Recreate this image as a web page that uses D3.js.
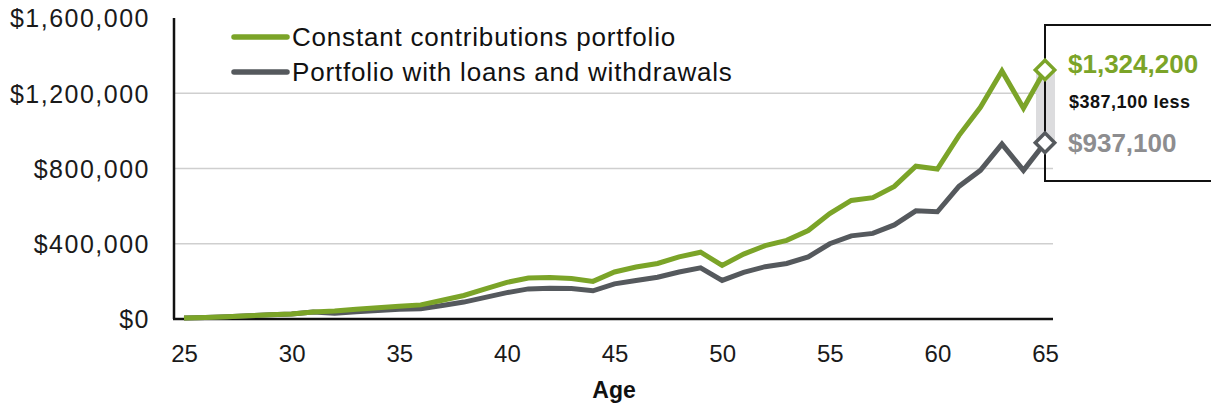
<!DOCTYPE html>
<html>
<head>
<meta charset="utf-8">
<script src="https://cdn.jsdelivr.net/npm/d3@7"></script>
<style>
  html, body { margin: 0; padding: 0; background: #fff; }
  svg { display: block; font-family: "Liberation Sans", Arial, sans-serif; }
</style>
</head>
<body>
<svg id="chart" width="1211" height="411"></svg>
<script>
const ages = [25,26,27,28,29,30,31,32,33,34,35,36,37,38,39,40,41,42,43,44,45,46,47,48,49,50,51,52,53,54,55,56,57,58,59,60,61,62,63,64,65];
const constantValues = [5000,8000,12000,17000,22000,27000,37000,42000,52000,60000,68000,75000,100000,125000,160000,195000,218000,220000,215000,200000,250000,276000,295000,330000,355000,285000,345000,390000,418000,470000,560000,630000,645000,705000,812000,797000,975000,1125000,1318000,1120000,1324200];
const loanValues = [5000,8000,12000,17000,22000,27000,37000,30000,38000,45000,52000,55000,72000,90000,115000,140000,160000,163000,162000,150000,187000,205000,222000,250000,272000,205000,248000,278000,295000,330000,400000,442000,455000,500000,575000,570000,705000,790000,930000,790000,937100];
const seriesNames = ["Constant contributions portfolio", "Portfolio with loans and withdrawals"];
const seriesColors = ["#7ba428", "#55595d"];
const yTicks = [0, 400000, 800000, 1200000, 1600000];
const xTicks = [25,30,35,40,45,50,55,60,65];
const endLabels = ["$1,324,200", "$387,100 less", "$937,100"];

const svg = d3.select("#chart");
const x = d3.scaleLinear().domain([25, 65]).range([184, 1045]);
const y = d3.scaleLinear().domain([0, 1600000]).range([319, 18]);

// gridlines
svg.append("g").selectAll("line").data(yTicks.filter(d => d > 0 && d < 1600000)).join("line")
  .attr("x1", 174).attr("x2", 1053).attr("y1", d => y(d)).attr("y2", d => y(d))
  .attr("stroke", "#cfcfcf").attr("stroke-width", 1.5);

// y axis labels
const yAxis = d3.axisLeft(y).tickValues(yTicks).tickSize(0).tickPadding(0)
  .tickFormat(d => "$" + d3.format(",")(d));
const gy = svg.append("g").attr("transform", "translate(150,0)").call(yAxis);
gy.select(".domain").remove();
gy.selectAll("text").attr("font-size", 25).attr("fill", "#1a1a1a")
  .attr("font-family", "'Liberation Sans', Arial, sans-serif").style("letter-spacing", "1.5px").attr("dy", "0.35em");

// x axis labels
const xAxis = d3.axisBottom(x).tickValues(xTicks).tickSize(0).tickPadding(0).tickFormat(d3.format("d"));
const gx = svg.append("g").attr("transform", "translate(0,344)").call(xAxis);
gx.select(".domain").remove();
gx.selectAll("text").attr("font-size", 24).attr("fill", "#1a1a1a")
  .attr("font-family", "'Liberation Sans', Arial, sans-serif").attr("dy", "0.75em");

// axis lines
svg.append("line").attr("x1", 174).attr("x2", 174).attr("y1", 18).attr("y2", 319)
  .attr("stroke", "#111").attr("stroke-width", 2.5);
svg.append("line").attr("x1", 173).attr("x2", 1053).attr("y1", 319).attr("y2", 319)
  .attr("stroke", "#111").attr("stroke-width", 2.5);

// Age title
svg.append("text").attr("x", 614).attr("y", 398).attr("text-anchor", "middle")
  .attr("font-size", 23).attr("font-weight", "bold").attr("fill", "#111").text("Age");

// gap band
const last = ages.length - 1;
svg.append("rect").attr("x", 1036).attr("width", 19)
  .attr("y", y(constantValues[last])).attr("height", y(loanValues[last]) - y(constantValues[last]))
  .attr("fill", "#dcdcde");

// lines
const line = d3.line().x((d, i) => x(ages[i])).y(d => y(d));
[loanValues, constantValues].forEach((vals, k) => {
  const idx = k === 0 ? 1 : 0;
  svg.append("path").datum(vals).attr("d", line).attr("fill", "none")
    .attr("stroke", seriesColors[idx]).attr("stroke-width", 5)
    .attr("stroke-linejoin", "miter").attr("stroke-linecap", "butt");
});

// annotation box (open on right)
svg.append("path")
  .attr("d", `M1211,25 H1045 V181 H1211`)
  .attr("fill", "none").attr("stroke", "#111").attr("stroke-width", 2);

// end diamonds
const endVals = [constantValues[last], loanValues[last]];
svg.append("g").selectAll("path").data(endVals).join("path")
  .attr("d", d3.symbol().type(d3.symbolDiamond2).size(240))
  .attr("transform", d => `translate(${x(65)},${y(d)})`)
  .attr("fill", "#fff").attr("stroke", (d, i) => seriesColors[i]).attr("stroke-width", 3.5);

// annotation labels
svg.append("text").attr("x", 1068).attr("y", 73).attr("font-size", 26).attr("font-weight", 600)
  .attr("fill", seriesColors[0]).text(endLabels[0]);
svg.append("text").attr("x", 1069).attr("y", 108).attr("font-size", 18).attr("font-weight", 600)
  .style("letter-spacing", "0.5px").attr("fill", "#111").text(endLabels[1]);
svg.append("text").attr("x", 1068).attr("y", 152).attr("font-size", 26).attr("font-weight", 600)
  .attr("fill", "#8d8d8f").text(endLabels[2]);

// legend
const legend = svg.append("g");
seriesNames.forEach((name, i) => {
  const ly = 37 + i * 35;
  legend.append("line").attr("x1", 234).attr("x2", 287).attr("y1", ly).attr("y2", ly)
    .attr("stroke", seriesColors[i]).attr("stroke-width", 5.5).attr("stroke-linecap", "round");
  legend.append("text").attr("x", 292).attr("y", ly + 9).attr("font-size", 26)
    .style("letter-spacing", "0.8px").attr("fill", "#111").text(name);
});
</script>
</body>
</html>
